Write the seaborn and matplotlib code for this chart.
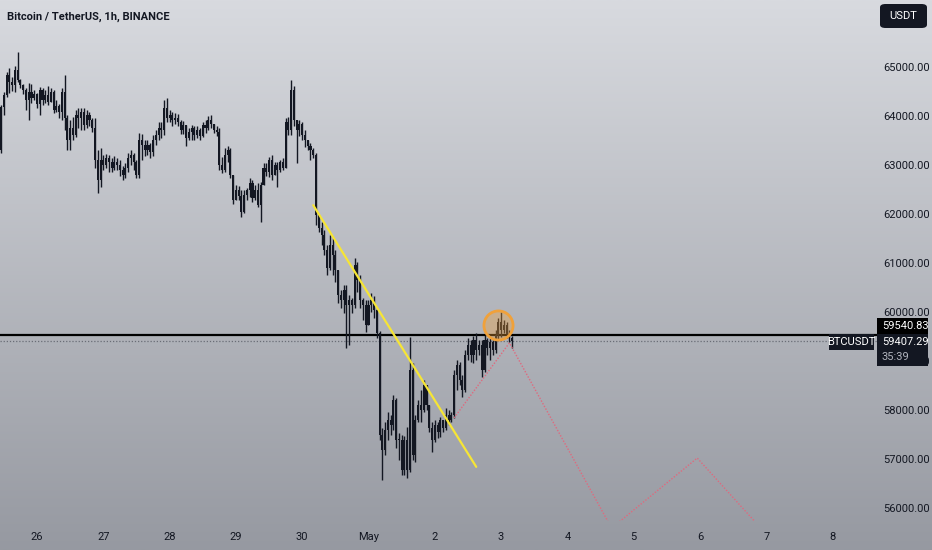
import matplotlib
matplotlib.use("Agg")
import matplotlib.pyplot as plt
from matplotlib.patches import Rectangle, FancyBboxPatch
import seaborn as sns
import numpy as np

# hourly BTCUSDT candles, hour 0 = Apr 26 00:00
first_hour = -13
first_open = 63310
closes = [
    64180, 64430, 64840, 64700, 64630, 64940, 64740, 64630, 64530, 64330,
    64490, 64370, 64450, 64250, 64530, 64330, 64430, 64290, 64490, 64120,
    64200, 64080, 64490, 63960, 63510, 63760, 63610, 64020, 63960, 64080,
    63820, 64020, 63920, 63760, 63100, 62690, 63100, 63000, 63140, 63060,
    62940, 63060, 63000, 62900, 62800, 62940, 63140, 63200, 63060, 62800,
    63510, 63410, 63310, 63410, 63270, 63510, 63610, 63760, 63710, 64160,
    63960, 64020, 63920, 63960, 63880, 63710, 63820, 63550, 63670, 63760,
    63610, 63710, 63590, 63820, 63760, 63920, 63840, 63710, 63670, 63000,
    62900, 63200, 63310, 62800, 62290, 62490, 62370, 62040, 62390, 62490,
    62630, 62330, 62490, 62180, 62590, 62940, 62860, 63100, 62800, 63000,
    62900, 63060, 62940, 63880, 63710, 64530, 63920, 63710, 63840, 63610,
    63510, 63390, 63310, 63200, 61980, 61710, 61570, 61270, 60900, 61370,
    61160, 60860, 60350, 60250, 60450, 60140, 60250, 60140, 60960, 60650,
    60250, 60140, 59740, 60140, 60250, 60040, 59570, 57490, 57180, 57590,
    57800, 57690, 58200, 57390, 57390, 56780, 57390, 56780, 58820, 57080,
    57800, 58100, 58000, 58510, 58100, 57630, 57390, 57690, 57550, 57800,
    57630, 57900, 57800, 57900, 58710, 58920, 58610, 58410, 59120, 59330,
    59120, 59430, 59220, 59330, 58820, 59430, 59270, 59390, 59220, 59530,
    59800, 59630, 59740, 59550, 59470, 59407.29,
]
highs = [
    64220, 64490, 64900, 64980, 64800, 65020, 65310, 64760, 64650, 64570,
    64670, 64650, 64530, 64470, 64590, 64570, 64530, 64610, 64570, 64530,
    64330, 64250, 64570, 64840, 64020, 63920, 63980, 64120, 64160, 64160,
    64160, 64120, 64080, 63960, 63960, 63310, 63350, 63200, 63220, 63200,
    63140, 63180, 63140, 63100, 62980, 63040, 63250, 63310, 63250, 63100,
    63650, 63630, 63510, 63510, 63450, 63610, 63710, 63880, 63880, 64330,
    64370, 64120, 64080, 64060, 64040, 63920, 63900, 63800, 63760, 63820,
    63800, 63800, 63760, 63880, 63920, 64000, 64020, 63840, 63800, 63760,
    63160, 63350, 63390, 63350, 62800, 62590, 62570, 62490, 62490, 62530,
    62740, 62690, 62590, 62630, 62650, 63040, 63040, 63160, 63200, 63060,
    63060, 63100, 63140, 63960, 63980, 64740, 64610, 63920, 63920, 63880,
    63710, 63510, 63450, 63350, 63250, 61980, 61840, 61670, 61370, 61570,
    61510, 61270, 60860, 60450, 60550, 60550, 60350, 60290, 61100, 61020,
    60760, 60290, 60250, 60250, 60390, 60330, 60080, 59610, 57630, 57760,
    57960, 57900, 58310, 58250, 57530, 57490, 57470, 57650, 59490, 58960,
    57900, 58200, 58410, 58610, 58510, 58100, 57760, 57800, 57760, 57860,
    57800, 58040, 58000, 57960, 58820, 59020, 58980, 58710, 59220, 59470,
    59430, 59510, 59570, 59430, 59430, 59530, 59470, 59470, 59430, 59630,
    59880, 60000, 59840, 59800, 59630, 59510,
]
lows = [
    63250, 64020, 64390, 64470, 64510, 64490, 64690, 64570, 64450, 64120,
    63920, 64270, 64330, 64160, 64020, 64230, 64270, 64230, 64330, 64060,
    64080, 63960, 63920, 63710, 63310, 63310, 63510, 63570, 63760, 63710,
    63710, 63760, 63800, 63670, 62940, 62430, 62550, 62900, 62940, 62860,
    62860, 62900, 62900, 62780, 62690, 62740, 62860, 63000, 62900, 62740,
    62740, 63100, 63180, 63200, 63140, 63180, 63410, 63510, 63550, 63610,
    63880, 63880, 63800, 63840, 63800, 63630, 63630, 63390, 63510, 63510,
    63510, 63550, 63510, 63570, 63650, 63710, 63760, 63650, 63590, 62900,
    62840, 62860, 63060, 62740, 62200, 62290, 62290, 61940, 62020, 62290,
    62350, 62250, 62290, 62140, 61840, 62590, 62780, 62760, 62690, 62800,
    62550, 62860, 62900, 63000, 63610, 63610, 63800, 63040, 63590, 63510,
    63370, 63310, 63100, 63140, 61780, 61630, 61370, 61160, 60760, 60860,
    60760, 60610, 60180, 60080, 59980, 59270, 59330, 59980, 60080, 60410,
    60080, 59840, 59590, 59740, 60000, 59880, 59470, 57390, 56570, 57080,
    57390, 57490, 57590, 57230, 56980, 56670, 56670, 56610, 56730, 56980,
    56940, 57760, 57760, 57960, 58000, 57550, 57140, 57350, 57430, 57450,
    57550, 57590, 57690, 57760, 57840, 58410, 58510, 58270, 58370, 59020,
    58980, 58960, 59020, 59120, 58670, 58780, 59120, 59020, 59120, 59160,
    59430, 59490, 59570, 59470, 59390, 59270,
]

day_ticks = [0, 24, 48, 72, 96, 120, 144, 168, 192, 216, 240, 264, 288]
day_labels = ["26", "27", "28", "29", "30", "May", "2", "3", "4", "5", "6", "7", "8"]
price_ticks = [56000, 57000, 58000, 59000, 60000, 61000, 62000, 63000, 64000, 65000]

level_price = 59540.83
last_price = 59407.29
countdown = "35:39"

# drawings
trend_hours = [100, 159]
trend_prices = [62180, 56840]
proj_hours = [151, 171, 208, 239, 262]
proj_prices = [57840, 59370, 55590, 57020, 55590]
circle_hour = 167
circle_price = 59735

W, H = 932, 550
ink = "#131722"

sns.set_theme(style="white")
plt.rcParams["font.family"] = ["Roboto", "DejaVu Sans"]

fig = plt.figure(figsize=(W / 100, H / 100), dpi=100)

# background gradient
bg = fig.add_axes([0, 0, 1, 1], zorder=-5)
top = np.array([216, 218, 223]) / 255
bot = np.array([150, 153, 161]) / 255
t = np.linspace(0, 1, 256)[:, None]
grad = top[None, :] * (1 - t) + bot[None, :] * t
bg.imshow(grad[:, None, :], aspect="auto", extent=[0, 1, 0, 1])
bg.axis("off")

ax = fig.add_axes([0, 29 / H, 877 / W, 521 / H])
ax.set_facecolor("none")
ax.set_xlim((0 - 37) / 2.7625, (877 - 37) / 2.7625)
ax.set_ylim(55735, 66368)

hours = np.arange(first_hour, first_hour + len(closes))
c = np.array(closes, dtype=float)
o = np.concatenate([[first_open], c[:-1]])
hi = np.maximum(np.array(highs, dtype=float), np.maximum(o, c))
lo = np.minimum(np.array(lows, dtype=float), np.minimum(o, c))

ax.vlines(hours, lo, hi, color=ink, lw=1.0, zorder=3)
body_lo = np.minimum(o, c)
body_h = np.maximum(np.abs(c - o), 15)
ax.bar(hours, body_h, bottom=body_lo, width=0.75, color=ink, linewidth=0, zorder=3)

# levels
ax.axhline(level_price, color="black", lw=1.6, zorder=2)
ax.axhline(last_price, color="#6a6d76", lw=0.9, ls=(0, (1, 1.5)), zorder=2)

sns.lineplot(x=trend_hours, y=trend_prices, ax=ax, color="#f6e535", lw=1.6, zorder=4)
sns.lineplot(x=proj_hours, y=proj_prices, ax=ax, sort=False, color="#de6a7e",
             lw=1.0, ls=(0, (1, 1.2)), zorder=4)

ax.scatter([circle_hour], [circle_price], s=440, facecolor=(0.96, 0.64, 0.22, 0.35),
           edgecolor="#f0a13a", lw=2, zorder=5)

ax.yaxis.tick_right()
ax.set_yticks(price_ticks, [f"{p:.2f}" for p in price_ticks])
ax.set_xticks(day_ticks, day_labels)
ax.tick_params(axis="y", length=0, pad=4.5, labelsize=8, labelcolor=ink)
ax.tick_params(axis="x", length=0, pad=8, labelsize=8, labelcolor=ink)
for s in ax.spines.values():
    s.set_visible(False)

fig.text(7 / W, 1 - 17 / H, "Bitcoin / TetherUS, 1h, BINANCE", fontsize=8,
         fontweight="bold", color=ink, va="center", ha="left")


def box(x0, y0, x1, y1, color, rounded=False):
    if rounded:
        p = FancyBboxPatch((x0 / W, 1 - y1 / H), (x1 - x0) / W, (y1 - y0) / H,
                           boxstyle="round,pad=0,rounding_size=0.006",
                           transform=fig.transFigure, fc=color, ec="none")
    else:
        p = Rectangle((x0 / W, 1 - y1 / H), (x1 - x0) / W, (y1 - y0) / H,
                      transform=fig.transFigure, fc=color, ec="none")
    fig.patches.append(p)


def label(x, y, s, color="white", ha="left"):
    fig.text(x / W, 1 - y / H, s, color=color, fontsize=8, ha=ha, va="center")


box(880, 4, 927, 28, ink, rounded=True)
label(903.5, 16, "USDT", ha="center")

box(877, 318, 928, 334, "black")
label(882, 326, f"{level_price:.2f}")
box(877, 334, 928, 366, ink)
label(882, 342, f"{last_price:.2f}")
label(882, 357, countdown, color="#b2b5be")
box(829, 334, 874, 350, ink)
label(851.5, 342, "BTCUSDT", ha="center")

fig.savefig("out.png", dpi=100)
